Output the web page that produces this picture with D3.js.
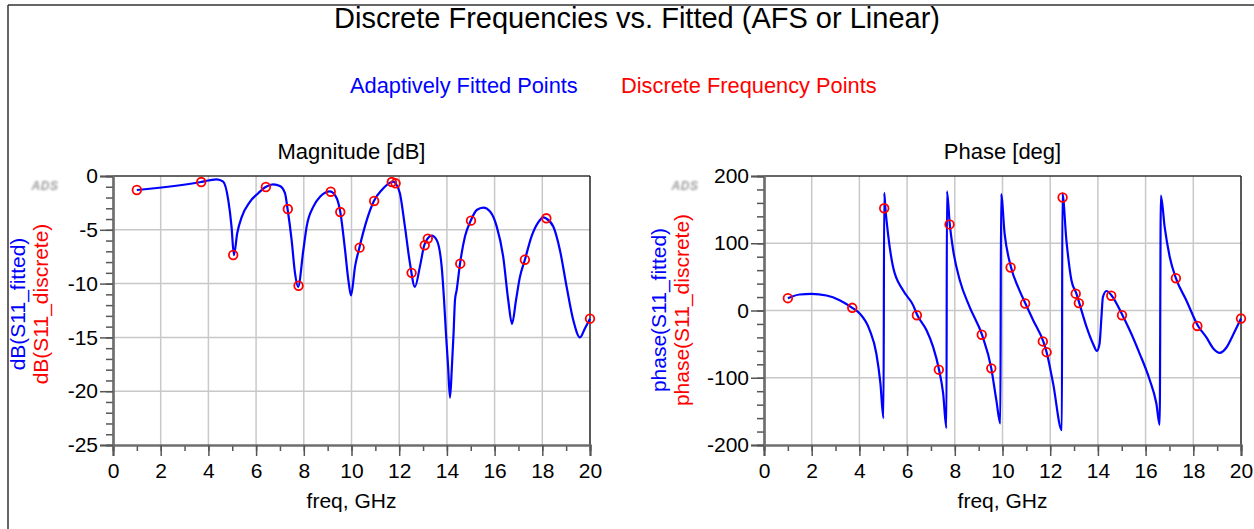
<!DOCTYPE html>
<html><head><meta charset="utf-8">
<script src="https://cdn.jsdelivr.net/npm/d3@7"></script>
<style>
html,body{margin:0;padding:0;background:#fff;}
svg{display:block;font-family:"Liberation Sans",Arial,sans-serif;}
</style></head>
<body><svg id="chart" width="1254" height="529"></svg>
<script>
// ---------- data ----------
const chartTitle = "Discrete Frequencies vs. Fitted (AFS or Linear)";
const legendLabels = ["Adaptively Fitted Points", "Discrete Frequency Points"];
const discreteFreq = [1.0, 3.7, 5.04, 6.41, 7.33, 7.78, 9.13, 9.53, 10.34, 10.95, 11.69, 11.85, 12.52, 13.07, 13.2, 14.56, 15.01, 17.27, 18.17, 20.0];
const magDiscrete = [-1.3, -0.56, -7.34, -1.02, -3.07, -10.2, -1.46, -3.35, -6.66, -2.32, -0.56, -0.68, -9.0, -6.44, -5.82, -8.15, -4.15, -7.78, -3.93, -13.26];
const phaseDiscrete = [18.3, 4.0, 152, -7, -88, 128, -36, -86, 64, 10.4, -46, -62, 168, 25, 11, 22, -7, 48, -23, -12];

const magFitFreq = [1.0, 3.69, 4.0, 4.35, 4.62, 4.83, 4.97, 5.07, 5.21, 5.40, 5.74, 6.09, 6.40, 6.72, 7.0, 7.21, 7.32, 7.49, 7.63, 7.76, 7.98, 8.12, 8.40, 8.68, 9.1, 9.38, 9.53, 9.73, 9.87, 9.98, 10.15, 10.33, 10.64, 10.94, 11.27, 11.68, 11.75, 11.85, 12.03, 12.24, 12.45, 12.66, 12.87, 13.05, 13.19, 13.36, 13.57, 13.78, 13.88, 13.96, 14.05, 14.13, 14.21, 14.28, 14.34, 14.41, 14.55, 14.76, 15.0, 15.25, 15.53, 15.81, 16.09, 16.36, 16.57, 16.73, 16.90, 17.06, 17.27, 17.55, 17.83, 18.04, 18.15, 18.46, 18.74, 19.02, 19.30, 19.58, 19.79, 20.0];
const magFit = [-1.3, -0.56, -0.42, -0.31, -0.53, -2.2, -4.7, -7.35, -5.3, -3.8, -2.4, -1.6, -1.02, -0.78, -0.93, -1.6, -3.07, -5.95, -9.0, -10.3, -6.9, -4.7, -2.85, -1.92, -1.42, -2.07, -3.35, -6.9, -9.7, -11.1, -8.4, -6.66, -4.1, -2.32, -1.3, -0.56, -0.52, -0.68, -1.6, -4.7, -8.1, -10.3, -8.4, -6.44, -5.82, -5.55, -5.95, -8.4, -11.5, -14.6, -17.7, -20.6, -17.7, -14.6, -11.5, -10.6, -8.15, -5.6, -4.15, -3.16, -2.94, -3.3, -4.7, -7.5, -11.5, -13.75, -11.5, -9.4, -7.78, -5.6, -4.3, -3.84, -3.93, -4.7, -6.9, -10.3, -13.4, -15.0, -14.15, -13.26];

const phaseFitFreq = [1.0, 1.5, 1.99, 2.62, 3.17, 3.70, 4.01, 4.43, 4.71, 4.88, 5.01, 5.04, 5.09, 5.20, 5.41, 5.83, 6.25, 6.43, 6.81, 7.09, 7.34, 7.51, 7.65, 7.67, 7.79, 7.93, 8.21, 8.62, 9.14, 9.53, 9.74, 9.91, 9.94, 10.09, 10.36, 10.65, 10.96, 11.28, 11.71, 11.85, 12.12, 12.49, 12.51, 12.68, 12.89, 13.10, 13.22, 13.52, 13.79, 13.96, 14.07, 14.15, 14.21, 14.36, 14.58, 15.03, 15.33, 15.75, 16.17, 16.45, 16.59, 16.64, 16.80, 17.01, 17.27, 17.71, 18.20, 18.55, 18.83, 19.11, 19.39, 19.67, 20.0];
const phaseFit = [18.3, 23.8, 24.7, 22.3, 15.4, 4.0, -4.4, -29, -64, -108, -160, 175, 152, 114, 65, 30, 8, -7, -29, -54, -88, -123, -175, 177, 128, 90, 45, 5.5, -36, -86, -133, -168, 173, 114, 64, 35, 10.4, -14, -46, -62, -108, -178, 174, 104, 45, 25, 11, -24, -49, -60, -49, -9, 20, 29, 22, -7, -29, -64, -103, -138, -170, 171, 124, 80, 48, 15, -23, -40, -56, -63, -55, -36, -12];

const xTicks = [0, 2, 4, 6, 8, 10, 12, 14, 16, 18, 20];
const magTicks = [-25, -20, -15, -10, -5, 0];
const phaseTicks = [-200, -100, 0, 100, 200];

// ---------- drawing ----------
const svg = d3.select("#chart");
const BLUE = "#0000ff", RED = "#ff0000";
const fmt = d => String(d);

// outer frame
svg.append("line").attr("x1", 8).attr("y1", 5).attr("x2", 8).attr("y2", 529).attr("stroke", "#333").attr("stroke-width", 1.5);
svg.append("line").attr("x1", 8).attr("y1", 5).attr("x2", 1254).attr("y2", 5).attr("stroke", "#333").attr("stroke-width", 1.5);

svg.append("text").attr("x", 637).attr("y", 28).attr("text-anchor", "middle")
  .attr("font-size", 29).attr("fill", "#000").text(chartTitle);
svg.append("text").attr("x", 350).attr("y", 93).attr("font-size", 21.8).attr("fill", BLUE).text(legendLabels[0]);
svg.append("text").attr("x", 621).attr("y", 93).attr("font-size", 21.8).attr("fill", RED).text(legendLabels[1]);

const defs = svg.append("defs");
defs.append("filter").attr("id", "blur").append("feGaussianBlur").attr("stdDeviation", 1.0);

function panel(cfg) {
  const x = d3.scaleLinear().domain([0, 20]).range([cfg.x0, cfg.x1]);
  const y = d3.scaleLinear().domain(cfg.yDomain).range([445, 176]);
  const g = svg.append("g");

  // grid
  g.selectAll(".vg").data(xTicks.filter(t => t > 0 && t < 20)).enter().append("line")
    .attr("x1", d => x(d)).attr("x2", d => x(d)).attr("y1", 176).attr("y2", 445)
    .attr("stroke", "#c8c8c8").attr("stroke-width", 1.5);
  g.selectAll(".hg").data(cfg.yTicks.filter(t => t > cfg.yDomain[0] && t < cfg.yDomain[1])).enter().append("line")
    .attr("x1", cfg.x0).attr("x2", cfg.x1).attr("y1", d => y(d)).attr("y2", d => y(d))
    .attr("stroke", "#c8c8c8").attr("stroke-width", 1.5);

  // top/right frame
  g.append("line").attr("x1", cfg.x0).attr("x2", cfg.x1).attr("y1", 176).attr("y2", 176).attr("stroke", "#333").attr("stroke-width", 1.5);
  g.append("line").attr("x1", cfg.x1).attr("x2", cfg.x1).attr("y1", 176).attr("y2", 445).attr("stroke", "#222").attr("stroke-width", 1.5);

  // minor ticks
  const xMinor = d3.range(0, 21, 1);
  const yMinor = d3.range(cfg.yDomain[0], cfg.yDomain[1] + 0.001, cfg.minorStep);
  const xmin = g.append("g").attr("transform", "translate(0,445)")
    .call(d3.axisBottom(x).tickValues(xMinor).tickSize(6).tickFormat(""));
  const ymin = g.append("g").attr("transform", `translate(${cfg.x0},0)`)
    .call(d3.axisLeft(y).tickValues(yMinor).tickSize(7).tickFormat(""));
  // major ticks
  const xax = g.append("g").attr("transform", "translate(0,445)")
    .call(d3.axisBottom(x).tickValues(xTicks).tickSize(11).tickPadding(7).tickFormat(fmt));
  const yax = g.append("g").attr("transform", `translate(${cfg.x0},0)`)
    .call(d3.axisLeft(y).tickValues(cfg.yTicks).tickSize(13).tickPadding(2).tickFormat(fmt));
  [xmin, ymin, xax, yax].forEach(a => {
    a.select(".domain").attr("stroke", "#6e6e6e").attr("stroke-width", 2.2);
    a.selectAll(".tick line").attr("stroke", "#555").attr("stroke-width", 1.5);
    a.selectAll("text").attr("font-size", 21).attr("fill", "#000")
      .attr("font-family", "'Liberation Sans', Arial, sans-serif");
  });
  xax.selectAll("text").attr("dy", "0.71em");

  // line + points
  const line = d3.line().x(d => x(d[0])).y(d => y(d[1])).curve(d3.curveMonotoneX);
  const fit = cfg.fitF.map((f, i) => [f, cfg.fitV[i]]);
  g.append("path").attr("d", line(fit)).attr("fill", "none").attr("stroke", BLUE).attr("stroke-width", 2.2)
    .attr("stroke-linejoin", "round");
  g.selectAll(".pt").data(discreteFreq.map((f, i) => [f, cfg.disc[i]])).enter().append("circle")
    .attr("cx", d => x(d[0])).attr("cy", d => y(d[1])).attr("r", 4.3)
    .attr("fill", "none").attr("stroke", RED).attr("stroke-width", 1.8);

  // titles
  const cx = (cfg.x0 + cfg.x1) / 2;
  g.append("text").attr("x", cx).attr("y", 159).attr("text-anchor", "middle").attr("font-size", 22).text(cfg.title);
  g.append("text").attr("x", cx).attr("y", 508).attr("text-anchor", "middle").attr("font-size", 21).text("freq, GHz");
  g.append("text").attr("transform", `translate(${cfg.labX[0]},${cfg.labY}) rotate(-90)`).attr("text-anchor", "middle")
    .attr("font-size", 21).attr("fill", BLUE).text(cfg.labels[0]);
  g.append("text").attr("transform", `translate(${cfg.labX[1]},${cfg.labY}) rotate(-90)`).attr("text-anchor", "middle")
    .attr("font-size", 21).attr("fill", RED).text(cfg.labels[1]);
  // ADS logo
  g.append("text").attr("x", cfg.logo[0]).attr("y", cfg.logo[1]).attr("text-anchor", "middle")
    .attr("font-size", 12).attr("font-weight", "bold").attr("font-style", "italic").attr("fill", "#9c9c9c")
    .attr("letter-spacing", 0.5).attr("filter", "url(#blur)").text("ADS");
}

panel({
  x0: 113, x1: 590, yDomain: [-25, 0], yTicks: magTicks, minorStep: 1,
  fitF: magFitFreq, fitV: magFit, disc: magDiscrete,
  title: "Magnitude [dB]", labels: ["dB(S11_fitted)", "dB(S11_discrete)"],
  labX: [25, 48], labY: 304, logo: [45, 190]
});
panel({
  x0: 764, x1: 1241, yDomain: [-200, 200], yTicks: phaseTicks, minorStep: 20,
  fitF: phaseFitFreq, fitV: phaseFit, disc: phaseDiscrete,
  title: "Phase [deg]", labels: ["phase(S11_fitted)", "phase(S11_discrete)"],
  labX: [666, 689], labY: 310, logo: [685, 190]
});
</script></body></html>
